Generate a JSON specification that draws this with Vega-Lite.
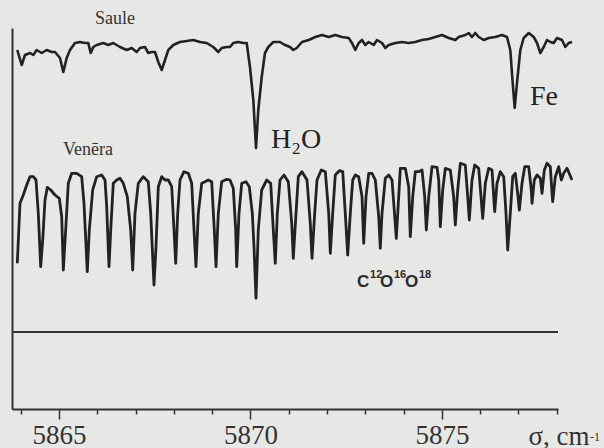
{
"$schema": "https://vega.github.io/schema/vega-lite/v6.json",
"width": 546, "height": 381,
"autosize": "none",
"padding": {"left": 12, "top": 28, "right": 46, "bottom": 39},
"background": "#e7e7e5",
"config": {"view": {"stroke": null}},
"datasets": {
"baseline": [{"I": 77}],
"saule": [{"wn":5863.911,"I":359},{"wn":5864.026,"I":344},{"wn":5864.112,"I":354},{"wn":5864.243,"I":356},{"wn":5864.329,"I":354},{"wn":5864.418,"I":359},{"wn":5864.548,"I":356},{"wn":5864.679,"I":359},{"wn":5864.81,"I":357},{"wn":5864.896,"I":357},{"wn":5865.026,"I":351},{"wn":5865.113,"I":337},{"wn":5865.201,"I":351},{"wn":5865.288,"I":359},{"wn":5865.418,"I":366},{"wn":5865.549,"I":367},{"wn":5865.679,"I":366},{"wn":5865.765,"I":366},{"wn":5865.828,"I":356},{"wn":5865.896,"I":362},{"wn":5865.985,"I":364},{"wn":5866.157,"I":366},{"wn":5866.288,"I":364},{"wn":5866.418,"I":366},{"wn":5866.593,"I":362},{"wn":5866.768,"I":359},{"wn":5866.899,"I":361},{"wn":5867.029,"I":357},{"wn":5867.116,"I":361},{"wn":5867.246,"I":362},{"wn":5867.332,"I":356},{"wn":5867.421,"I":357},{"wn":5867.507,"I":357},{"wn":5867.594,"I":347},{"wn":5867.682,"I":339},{"wn":5867.769,"I":349},{"wn":5867.855,"I":359},{"wn":5867.985,"I":364},{"wn":5868.16,"I":367},{"wn":5868.335,"I":368},{"wn":5868.508,"I":369},{"wn":5868.683,"I":367},{"wn":5868.858,"I":366},{"wn":5869.03,"I":362},{"wn":5869.161,"I":357},{"wn":5869.249,"I":361},{"wn":5869.38,"I":362},{"wn":5869.466,"I":362},{"wn":5869.552,"I":366},{"wn":5869.683,"I":367},{"wn":5869.813,"I":366},{"wn":5869.902,"I":366},{"wn":5869.988,"I":342},{"wn":5870.075,"I":309},{"wn":5870.145,"I":261},{"wn":5870.205,"I":299},{"wn":5870.294,"I":332},{"wn":5870.38,"I":356},{"wn":5870.466,"I":362},{"wn":5870.597,"I":367},{"wn":5870.772,"I":367},{"wn":5870.902,"I":364},{"wn":5871.033,"I":362},{"wn":5871.119,"I":359},{"wn":5871.208,"I":361},{"wn":5871.346,"I":367},{"wn":5871.521,"I":369},{"wn":5871.694,"I":372},{"wn":5871.869,"I":374},{"wn":5872.044,"I":372},{"wn":5872.216,"I":374},{"wn":5872.391,"I":372},{"wn":5872.566,"I":371},{"wn":5872.652,"I":366},{"wn":5872.738,"I":359},{"wn":5872.827,"I":366},{"wn":5872.913,"I":369},{"wn":5873.0,"I":364},{"wn":5873.088,"I":367},{"wn":5873.219,"I":364},{"wn":5873.305,"I":369},{"wn":5873.436,"I":366},{"wn":5873.522,"I":361},{"wn":5873.611,"I":364},{"wn":5873.783,"I":366},{"wn":5873.958,"I":367},{"wn":5874.133,"I":366},{"wn":5874.305,"I":367},{"wn":5874.48,"I":369},{"wn":5874.655,"I":370},{"wn":5874.828,"I":372},{"wn":5875.003,"I":374},{"wn":5875.178,"I":371},{"wn":5875.35,"I":369},{"wn":5875.439,"I":372},{"wn":5875.611,"I":374},{"wn":5875.7,"I":376},{"wn":5875.786,"I":372},{"wn":5875.872,"I":376},{"wn":5875.961,"I":372},{"wn":5876.092,"I":369},{"wn":5876.222,"I":371},{"wn":5876.395,"I":372},{"wn":5876.57,"I":374},{"wn":5876.7,"I":372},{"wn":5876.786,"I":359},{"wn":5876.849,"I":326},{"wn":5876.901,"I":301},{"wn":5876.961,"I":326},{"wn":5877.048,"I":359},{"wn":5877.136,"I":371},{"wn":5877.267,"I":376},{"wn":5877.398,"I":372},{"wn":5877.484,"I":366},{"wn":5877.57,"I":356},{"wn":5877.659,"I":362},{"wn":5877.745,"I":369},{"wn":5877.831,"I":367},{"wn":5877.92,"I":366},{"wn":5878.006,"I":371},{"wn":5878.137,"I":369},{"wn":5878.223,"I":362},{"wn":5878.312,"I":366},{"wn":5878.398,"I":367}],
"venus": [{"wn":5863.911,"I":145.7},{"wn":5863.982,"I":205.7},{"wn":5864.068,"I":214},{"wn":5864.157,"I":224},{"wn":5864.243,"I":232.3},{"wn":5864.329,"I":232.3},{"wn":5864.4,"I":229},{"wn":5864.46,"I":195.7},{"wn":5864.522,"I":142.3},{"wn":5864.575,"I":169},{"wn":5864.635,"I":209},{"wn":5864.695,"I":221.7},{"wn":5864.784,"I":219},{"wn":5864.896,"I":214},{"wn":5865.008,"I":210.7},{"wn":5865.071,"I":192.3},{"wn":5865.113,"I":139},{"wn":5865.175,"I":179},{"wn":5865.243,"I":225.7},{"wn":5865.332,"I":235.7},{"wn":5865.463,"I":235.7},{"wn":5865.593,"I":232.3},{"wn":5865.653,"I":205.7},{"wn":5865.739,"I":137.3},{"wn":5865.792,"I":179},{"wn":5865.88,"I":219},{"wn":5865.985,"I":232.3},{"wn":5866.115,"I":234},{"wn":5866.202,"I":229},{"wn":5866.246,"I":202.3},{"wn":5866.306,"I":142.3},{"wn":5866.351,"I":179},{"wn":5866.418,"I":225.7},{"wn":5866.507,"I":229},{"wn":5866.593,"I":230.7},{"wn":5866.68,"I":225.7},{"wn":5866.784,"I":212.3},{"wn":5866.873,"I":179},{"wn":5866.925,"I":139},{"wn":5866.985,"I":195.7},{"wn":5867.071,"I":225.7},{"wn":5867.202,"I":232.3},{"wn":5867.332,"I":227.3},{"wn":5867.395,"I":195.7},{"wn":5867.481,"I":124},{"wn":5867.534,"I":162.3},{"wn":5867.594,"I":222.3},{"wn":5867.682,"I":232.3},{"wn":5867.769,"I":229},{"wn":5867.855,"I":229},{"wn":5867.944,"I":222.3},{"wn":5868.004,"I":179},{"wn":5868.048,"I":145.7},{"wn":5868.1,"I":195.7},{"wn":5868.16,"I":229},{"wn":5868.265,"I":237.3},{"wn":5868.377,"I":235.7},{"wn":5868.466,"I":225.7},{"wn":5868.526,"I":179},{"wn":5868.578,"I":142.3},{"wn":5868.638,"I":195.7},{"wn":5868.727,"I":225.7},{"wn":5868.813,"I":227.3},{"wn":5868.899,"I":229},{"wn":5868.988,"I":227.3},{"wn":5869.056,"I":179},{"wn":5869.101,"I":142.3},{"wn":5869.161,"I":195.7},{"wn":5869.249,"I":227.3},{"wn":5869.38,"I":229.7},{"wn":5869.466,"I":229},{"wn":5869.552,"I":220.7},{"wn":5869.615,"I":179},{"wn":5869.641,"I":142.3},{"wn":5869.701,"I":195.7},{"wn":5869.772,"I":225.7},{"wn":5869.884,"I":227.3},{"wn":5869.97,"I":222.3},{"wn":5870.049,"I":195.7},{"wn":5870.093,"I":162.3},{"wn":5870.145,"I":110.7},{"wn":5870.205,"I":179},{"wn":5870.294,"I":219},{"wn":5870.425,"I":229},{"wn":5870.529,"I":225.7},{"wn":5870.597,"I":179},{"wn":5870.649,"I":145.7},{"wn":5870.702,"I":195.7},{"wn":5870.772,"I":229},{"wn":5870.876,"I":234},{"wn":5870.989,"I":227.3},{"wn":5871.078,"I":185.7},{"wn":5871.119,"I":150.7},{"wn":5871.19,"I":195.7},{"wn":5871.25,"I":232.3},{"wn":5871.346,"I":237.3},{"wn":5871.477,"I":229},{"wn":5871.563,"I":185.7},{"wn":5871.608,"I":150.7},{"wn":5871.678,"I":195.7},{"wn":5871.738,"I":229},{"wn":5871.851,"I":239},{"wn":5871.955,"I":237.3},{"wn":5872.044,"I":195.7},{"wn":5872.086,"I":155.7},{"wn":5872.148,"I":195.7},{"wn":5872.216,"I":234},{"wn":5872.321,"I":238.3},{"wn":5872.41,"I":237.3},{"wn":5872.477,"I":195.7},{"wn":5872.54,"I":154},{"wn":5872.608,"I":195.7},{"wn":5872.671,"I":229},{"wn":5872.739,"I":234},{"wn":5872.827,"I":232.3},{"wn":5872.914,"I":212.3},{"wn":5872.958,"I":165.7},{"wn":5873.018,"I":212.3},{"wn":5873.089,"I":235.7},{"wn":5873.175,"I":235.7},{"wn":5873.261,"I":229},{"wn":5873.35,"I":192.3},{"wn":5873.391,"I":160.7},{"wn":5873.436,"I":195.7},{"wn":5873.522,"I":230.7},{"wn":5873.611,"I":234},{"wn":5873.697,"I":229},{"wn":5873.768,"I":192.3},{"wn":5873.809,"I":170.7},{"wn":5873.872,"I":212.3},{"wn":5873.914,"I":240.7},{"wn":5874.044,"I":240.7},{"wn":5874.133,"I":222.3},{"wn":5874.175,"I":172.3},{"wn":5874.238,"I":212.3},{"wn":5874.306,"I":237.3},{"wn":5874.394,"I":237.3},{"wn":5874.481,"I":239},{"wn":5874.551,"I":212.3},{"wn":5874.593,"I":179},{"wn":5874.656,"I":212.3},{"wn":5874.742,"I":242.3},{"wn":5874.872,"I":241.7},{"wn":5874.917,"I":229},{"wn":5874.959,"I":182.3},{"wn":5875.021,"I":219},{"wn":5875.089,"I":240.7},{"wn":5875.22,"I":239},{"wn":5875.308,"I":212.3},{"wn":5875.35,"I":184},{"wn":5875.413,"I":219},{"wn":5875.481,"I":245.7},{"wn":5875.611,"I":244},{"wn":5875.674,"I":212.3},{"wn":5875.716,"I":189},{"wn":5875.786,"I":229},{"wn":5875.857,"I":244},{"wn":5875.961,"I":240.7},{"wn":5876.021,"I":212.3},{"wn":5876.066,"I":190.7},{"wn":5876.134,"I":225.7},{"wn":5876.222,"I":240.7},{"wn":5876.309,"I":239},{"wn":5876.353,"I":212.3},{"wn":5876.379,"I":197.3},{"wn":5876.439,"I":225.7},{"wn":5876.525,"I":237.3},{"wn":5876.614,"I":232.3},{"wn":5876.674,"I":195.7},{"wn":5876.719,"I":159},{"wn":5876.786,"I":195.7},{"wn":5876.849,"I":232.3},{"wn":5876.917,"I":235.7},{"wn":5876.988,"I":212.3},{"wn":5877.022,"I":199},{"wn":5877.092,"I":225.7},{"wn":5877.163,"I":242.3},{"wn":5877.267,"I":242.3},{"wn":5877.335,"I":219},{"wn":5877.353,"I":205.7},{"wn":5877.413,"I":229},{"wn":5877.484,"I":234},{"wn":5877.57,"I":230.7},{"wn":5877.615,"I":215.7},{"wn":5877.675,"I":239},{"wn":5877.745,"I":245.7},{"wn":5877.831,"I":242.3},{"wn":5877.876,"I":215.7},{"wn":5877.894,"I":207.3},{"wn":5877.962,"I":232.3},{"wn":5878.051,"I":242.3},{"wn":5878.119,"I":229},{"wn":5878.181,"I":235.7},{"wn":5878.268,"I":240.7},{"wn":5878.398,"I":229}],
"names": [{"wn":5865.941,"I":385,"label":"Saule"},{"wn":5865.105,"I":254,"label":"Venēra"}],
"species": [{"wn":5870.537,"I":261,"label":"H₂O"},{"wn":5877.301,"I":304,"label":"Fe"}],
"isoLetters": [{"wn":5872.783,"I":122.5,"label":"C"},{"wn":5873.384,"I":122.5,"label":"O"},{"wn":5874.037,"I":122.5,"label":"O"}],
"isoMass": [{"wn":5873.123,"I":131,"label":"12"},{"wn":5873.749,"I":131,"label":"16"},{"wn":5874.402,"I":131,"label":"18"}],
"unitExp": [{"wn":5878.868,"I":-32,"label":"-1"}]
},
"encoding": {
  "x": {"field": "wn", "type": "quantitative",
    "scale": {"domain": [5863.773, 5878.032], "nice": false, "zero": false},
    "axis": {"values": [5864,5865,5866,5867,5868,5869,5870,5871,5872,5873,5874,5875,5876,5877,5878],
      "labelExpr": "datum.value % 5 === 0 ? '' + datum.value : ''",
      "tickSize": {"condition": {"test": "datum.value % 5 === 0", "value": 10}, "value": 5},
      "tickColor": "#333", "tickWidth": 1.5, "domainColor": "#333", "domainWidth": 2,
      "labelFont": "Liberation Serif", "labelFontSize": 27, "labelColor": "#333",
      "labelBaseline": "alphabetic", "labelPadding": 24, "labelFlush": false, "labelOverlap": false,
      "grid": false,
      "title": "σ, cm", "titleFont": "Liberation Serif", "titleFontSize": 27, "titleFontWeight": "normal",
      "titleColor": "#333", "titleX": 516, "titleY": 35, "titleAlign": "left", "titleBaseline": "alphabetic"}},
  "y": {"field": "I", "type": "quantitative",
    "scale": {"domain": [0, 381], "nice": false, "zero": false},
    "axis": {"ticks": false, "labels": false, "title": null, "grid": false, "domainColor": "#333", "domainWidth": 2}}
},
"layer": [
  {"data": {"name": "baseline"}, "mark": {"type": "rule", "color": "#333", "strokeWidth": 2},
   "encoding": {"x": null, "y": {"field": "I", "type": "quantitative"}}},
  {"data": {"name": "saule"}, "mark": {"type": "line", "color": "#222", "strokeWidth": 2.6, "strokeJoin": "round", "clip": false}},
  {"data": {"name": "venus"}, "mark": {"type": "line", "color": "#222", "strokeWidth": 2.8, "strokeJoin": "round", "clip": false}},
  {"data": {"name": "names"}, "mark": {"type": "text", "font": "Liberation Serif", "fontSize": 18, "color": "#333", "align": "left", "baseline": "alphabetic"},
   "encoding": {"text": {"field": "label"}}},
  {"data": {"name": "species"}, "mark": {"type": "text", "font": "Liberation Serif", "fontSize": 28, "color": "#222", "align": "left", "baseline": "alphabetic"},
   "encoding": {"text": {"field": "label"}}},
  {"data": {"name": "isoLetters"}, "mark": {"type": "text", "font": "Liberation Sans", "fontSize": 17, "fontWeight": "bold", "color": "#2a2a2a", "align": "left", "baseline": "alphabetic"},
   "encoding": {"text": {"field": "label"}}},
  {"data": {"name": "isoMass"}, "mark": {"type": "text", "font": "Liberation Sans", "fontSize": 11, "fontWeight": "bold", "color": "#2a2a2a", "align": "left", "baseline": "alphabetic"},
   "encoding": {"text": {"field": "label"}}},
  {"data": {"name": "unitExp"}, "mark": {"type": "text", "font": "Liberation Serif", "fontSize": 12, "color": "#333", "align": "left", "baseline": "alphabetic"},
   "encoding": {"text": {"field": "label"}}}
]
}
